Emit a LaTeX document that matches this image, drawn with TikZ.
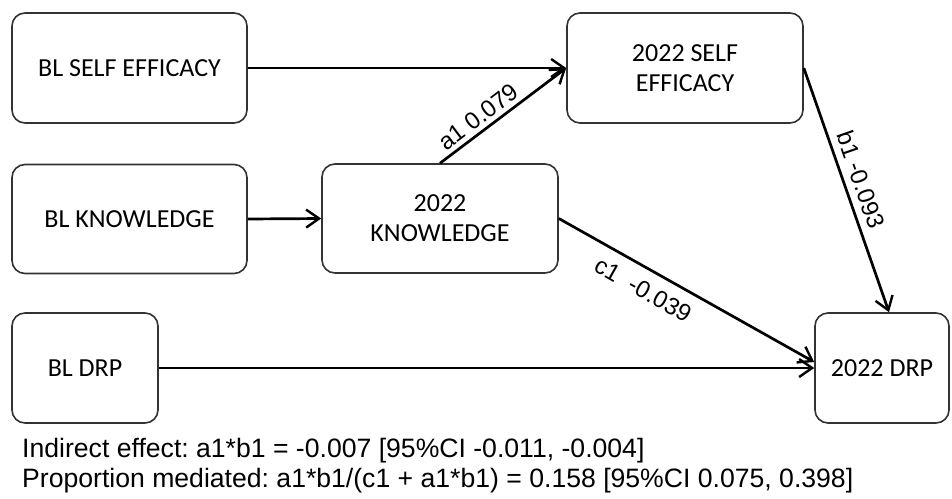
\documentclass[tikz,border=0pt]{standalone}
\usepackage{fontspec}
\setmainfont{Carlito}
\newfontfamily\pathfont{Liberation Sans}
\usetikzlibrary{arrows.meta}
\frenchspacing

\tikzset{
  varbox/.style={draw=black!80, line width=1.6pt, rounded corners=13pt, align=center,
    font=\fontsize{26}{30}\selectfont, inner sep=0pt},
  path/.style={line width=2.7pt, -{Straight Barb[length=13pt, width=18pt, line width=2.4pt]}},
  coef/.style={font=\pathfont\fontsize{24}{26}\selectfont, sloped, inner sep=4pt},
  note/.style={font=\pathfont\fontsize{26.6}{30}\selectfont, anchor=west, inner sep=0pt}
}

\begin{document}
\begin{tikzpicture}[x=1pt, y=-1pt]

  \useasboundingbox (0, 0) rectangle (952, 498);

  % baseline measures
  \node[varbox, minimum width=235, minimum height=110] (blse) at (129.5, 68) {BL SELF EFFICACY};
  \node[varbox, minimum width=235, minimum height=109] (blkn) at (129.5, 219) {BL KNOWLEDGE};
  \node[varbox, minimum width=146, minimum height=110] (bldrp) at (85, 368) {BL DRP};

  % 2022 measures
  \node[varbox, minimum width=236, minimum height=110] (se22) at (685, 68) {2022 SELF\\EFFICACY};
  \node[varbox, minimum width=236, minimum height=109] (kn22) at (440, 218.5) {2022\\KNOWLEDGE};
  \node[varbox, minimum width=134, minimum height=110] (drp22) at (882, 368) {2022 DRP};

  \draw[path] (blse.east) -- (se22.west);
  \draw[path] (blkn.east) -- (kn22.west);
  \draw[path] (bldrp.east) -- (drp22.west);

  \draw[path] (kn22.north) -- node[coef, above, pos=0.37] {a1 0.079} (se22.west);
  \draw[path] (se22.east) -- node[coef, above=3pt, pos=0.48] {b1 -0.093} ([xshift=7pt]drp22.north);
  \draw[path] (kn22.east) -- node[coef, below=7pt, pos=0.37] {c1\ \ -0.039} ([yshift=6pt]drp22.west);

  \node[note] (ind) at (22, 451) {Indirect effect: a1*b1 = -0.007 [95\%CI -0.011, -0.004]};
  \node[note] (prop) at (22, 481) {Proportion mediated: a1*b1/(c1 + a1*b1) = 0.158 [95\%CI 0.075, 0.398]};

\end{tikzpicture}
\end{document}
